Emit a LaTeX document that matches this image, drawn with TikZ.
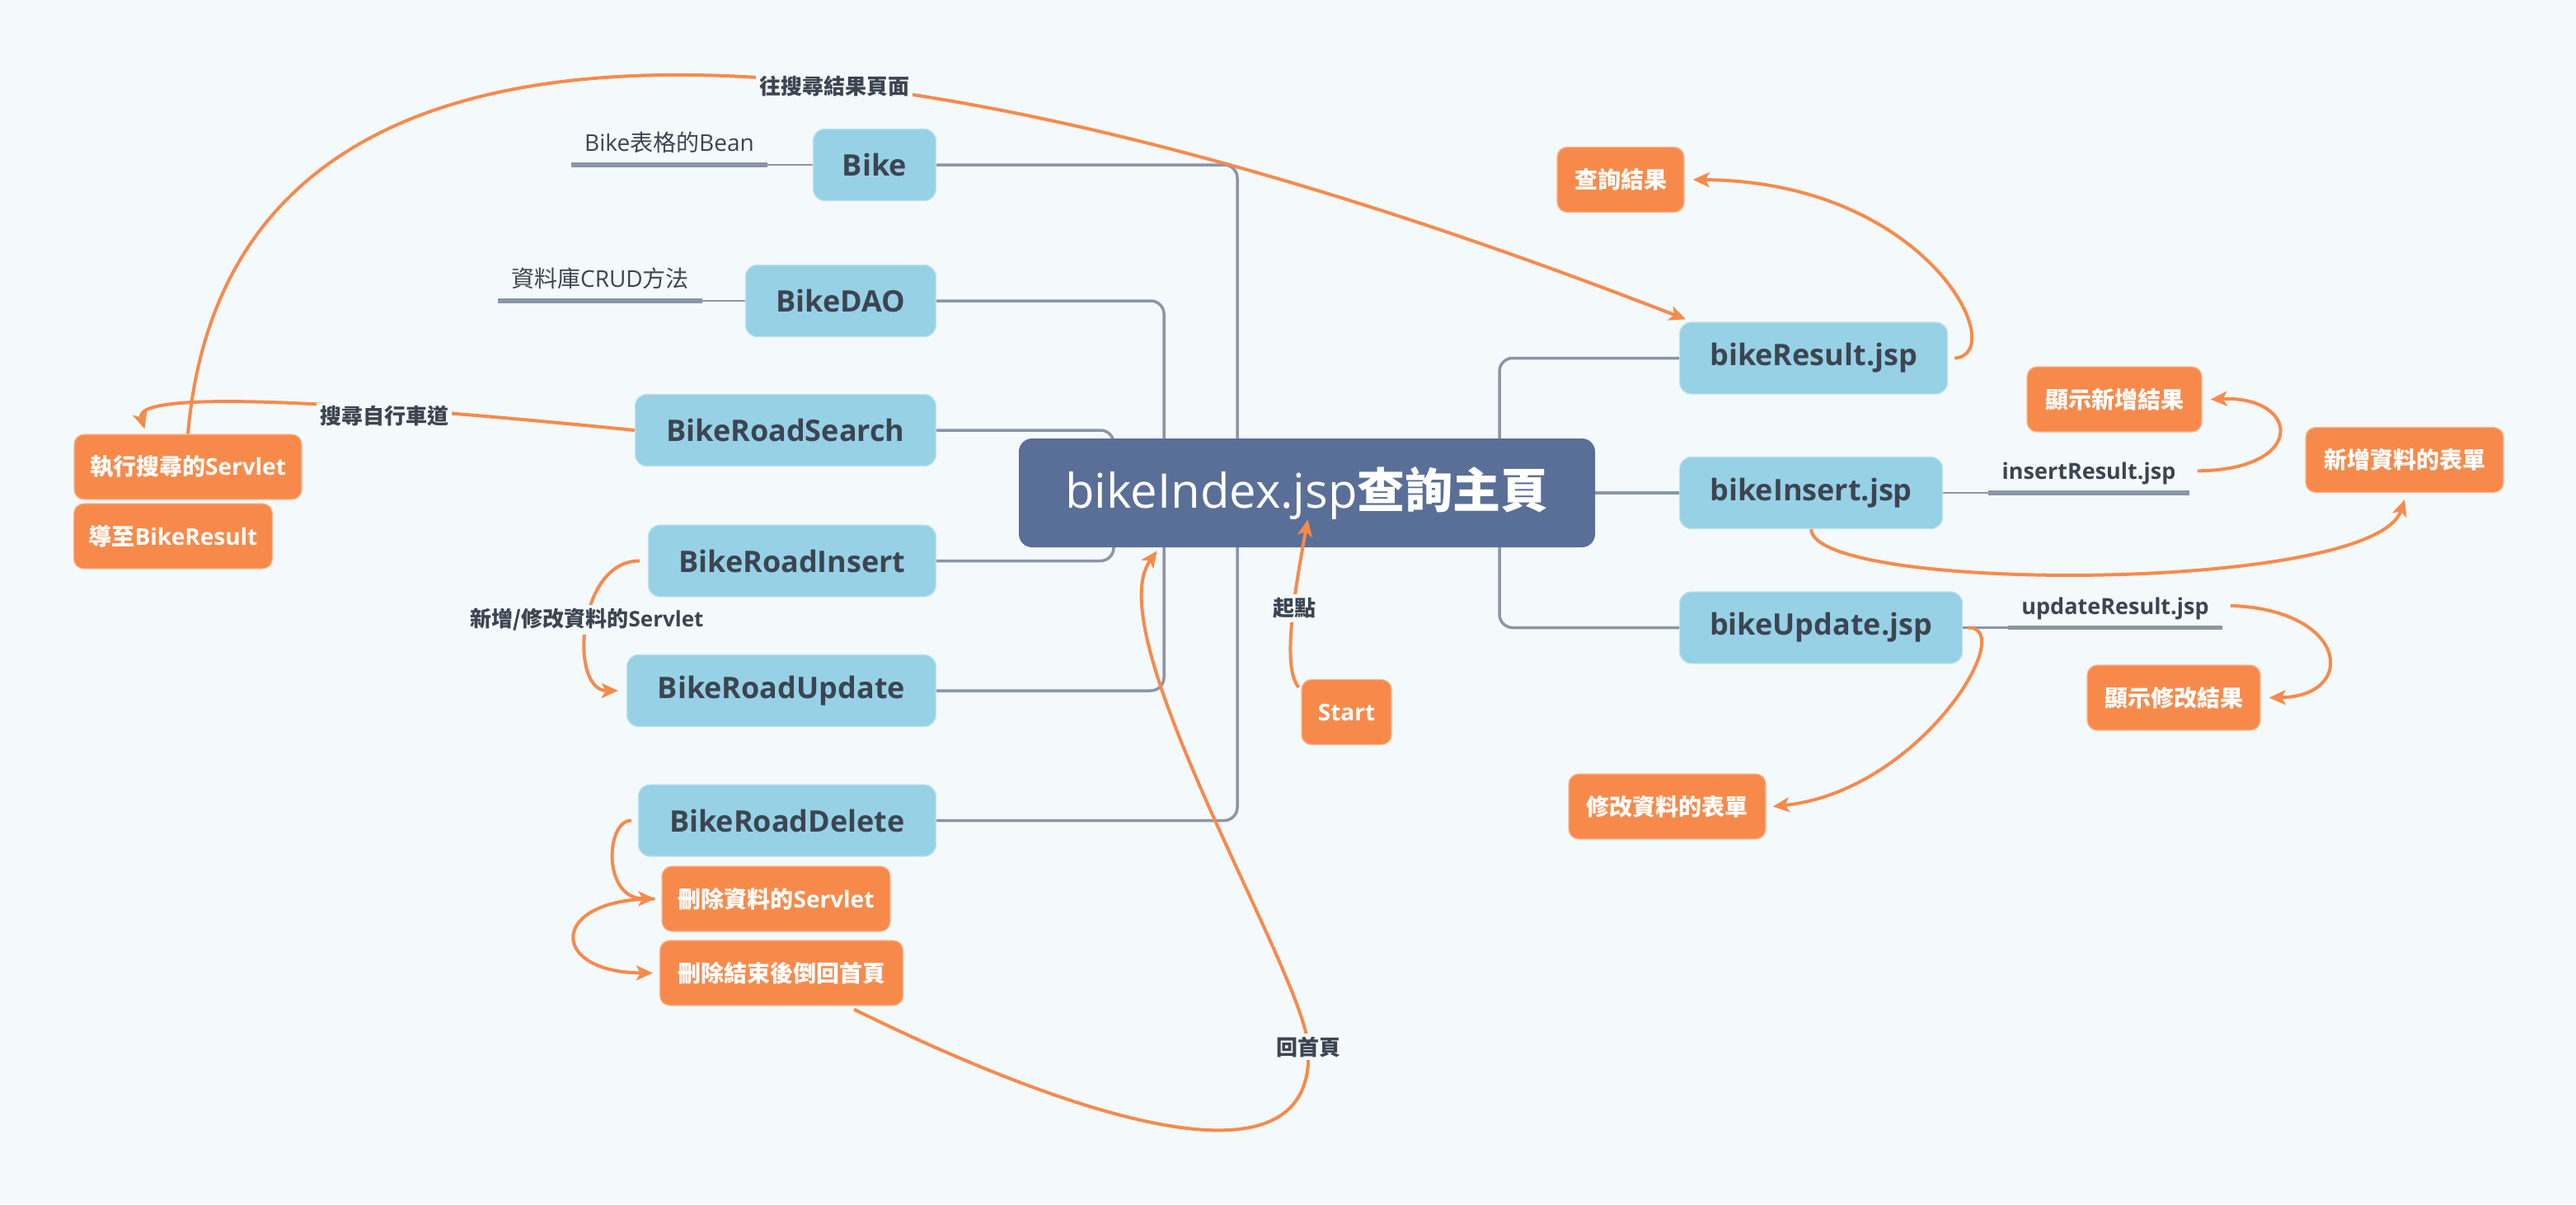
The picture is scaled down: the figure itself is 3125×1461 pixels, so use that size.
\documentclass[tikz,border=0pt]{standalone}
\usepackage{fontspec}
\setmainfont{Open Sans}
\newfontfamily\cjkfont{Noto Sans CJK TC}
\newcommand{\zh}[1]{{\cjkfont #1}}
\usetikzlibrary{arrows.meta,calc,backgrounds}
\definecolor{bgc}{HTML}{F4F9FC}
\definecolor{cmain}{HTML}{5A6F97}
\definecolor{cblue}{HTML}{97D1E6}
\definecolor{cdark}{HTML}{3C4551}
\definecolor{corange}{HTML}{F78A4B}
\definecolor{cgray}{HTML}{8A95A7}
\begin{document}
\begin{tikzpicture}[x=0.5pt,y=-0.5pt,
  tree/.style={draw=cgray,line width=1.75pt,rounded corners=8pt},
  thinline/.style={draw=cgray,line width=1.4pt},
  uline/.style={draw=cgray,line width=2.6pt},
  rel/.style={draw=corange,line width=2pt,-{Stealth[length=10pt,width=9pt,inset=2.5pt]}},
  mainbox/.style={fill=cmain,rounded corners=8pt,inner sep=0pt,minimum width=349.5pt,minimum height=66pt,text=white,font=\fontsize{29}{34}\selectfont},
  bluebox/.style={fill=cblue,draw=cblue!60!white,line width=0.6pt,rounded corners=7pt,inner sep=0pt,minimum height=43.5pt,text=cdark,font=\fontsize{18}{22}\selectfont\bfseries},
  orangebox/.style={fill=corange,draw=corange!60!white,line width=0.6pt,rounded corners=6pt,inner sep=0pt,minimum height=39.5pt,text=white,font=\fontsize{14}{17}\selectfont\bfseries},
  lbl/.style={text=cdark,font=\fontsize{14}{17}\selectfont,inner xsep=8pt,inner ysep=8pt,text depth=0pt,anchor=south},
  blbl/.style={lbl,font=\fontsize{13.5}{16}\selectfont\bfseries},
  rlbl/.style={fill=bgc,text=cdark,font=\fontsize{13}{16}\selectfont\bfseries,inner sep=2pt}
]
\useasboundingbox (0,0) rectangle (3125,1461);

% central topic
\node[mainbox] (main) at (1585.5,598) {bikeIndex.jsp\zh{\bfseries 查詢主頁}};

% left topics
\node[bluebox,anchor=east,minimum width=74.5pt] (bike) at (1136,200) {Bike};
\node[bluebox,anchor=east,minimum width=115.5pt] (dao) at (1136,365) {BikeDAO};
\node[bluebox,anchor=east,minimum width=182.5pt] (search) at (1136,522) {BikeRoadSearch};
\node[bluebox,anchor=east,minimum width=174.5pt] (rins) at (1136,680.5) {BikeRoadInsert};
\node[bluebox,anchor=east,minimum width=187.5pt] (rupd) at (1136,838) {BikeRoadUpdate};
\node[bluebox,anchor=east,minimum width=180.5pt] (rdel) at (1136,995.5) {BikeRoadDelete};
% right topics
\node[bluebox,anchor=west,minimum width=162.5pt] (res) at (2037,434.5) {bikeResult.jsp};
\node[bluebox,anchor=west,minimum width=159.5pt] (ins) at (2037,598) {bikeInsert.jsp};
\node[bluebox,anchor=west,minimum width=171.5pt] (upd) at (2037,761.5) {bikeUpdate.jsp};

% labels with underline
\node[lbl] (lbike) at (812,200) {Bike\zh{表格的}Bean};
\node[lbl] (ldao) at (728,365) {\zh{資料庫}CRUD\zh{方法}};
\node[blbl] (lins) at (2534,598) {insertResult.jsp};
\node[blbl] (lupd) at (2566,761.5) {updateResult.jsp};

% orange floating topics
\node[orangebox,minimum width=77pt] (cx) at (1966,218) {\zh{查詢結果}};
\node[orangebox,minimum width=106pt] (xz) at (2565,484.5) {\zh{顯示新增結果}};
\node[orangebox,minimum width=120pt] (nf) at (2917,558) {\zh{新增資料的表單}};
\node[orangebox,minimum width=105pt] (xm) at (2637,846.5) {\zh{顯示修改結果}};
\node[orangebox,minimum width=119.5pt] (mf) at (2022.5,978.5) {\zh{修改資料的表單}};
\node[orangebox,minimum width=54.5pt] (start) at (1633.5,864) {Start};
\node[orangebox,minimum width=138pt] (srv) at (228,566.5) {\zh{執行搜尋的}Servlet};
\node[orangebox,minimum width=120.5pt] (br) at (210,650.5) {\zh{導至}BikeResult};
\node[orangebox,minimum width=138.5pt] (ds) at (941.5,1090.5) {\zh{刪除資料的}Servlet};
\node[orangebox,minimum width=147.5pt] (dr) at (948,1180.5) {\zh{刪除結束後倒回首頁}};

\begin{scope}[on background layer]
  \fill[bgc] (0,0) rectangle (3125,1461);
  \draw[tree] (bike.east) -- ++(365,0) |- (rdel.east);
  \draw[tree] (dao.east) -- ++(276,0) |- (rupd.east);
  \draw[tree] (search.east) -- ++(215,0) |- (rins.east);
  \draw[tree] (res.west) -- ++(-218,0) |- (upd.west);
  \draw[tree] (main.east) -- (ins.west);
  \draw[uline] (lbike.south west) -- (lbike.south east);
  \draw[thinline] (lbike.south east) -- (bike.west);
  \draw[uline] (ldao.south west) -- (ldao.south east);
  \draw[thinline] (ldao.south east) -- (dao.west);
  \draw[uline] (lins.south west) -- (lins.south east);
  \draw[thinline] (ins.east) -- (lins.south west);
  \draw[uline] (lupd.south west) -- (lupd.south east);
  \draw[thinline] (upd.east) -- (lupd.south west);
\end{scope}

% relationships
\coordinate (hp) at (1587,1270);
\draw[rel] (srv.north) .. controls (280,-80) and (1100,20) .. ($(res.north west)+(8,-3)$);
\draw[rel] (search.west) .. controls (450,490) and (160,470) .. ($(srv.north west)+(86,-6)$);
\draw[rel] ([xshift=4pt]res.east) .. controls (2440,430) and (2340,220) .. ([xshift=5pt]cx.east);
\draw[rel] ([xshift=5pt]lins.east) .. controls (2800,570) and (2790,480) .. ([xshift=5pt]xz.east);
\draw[rel] (ins.south) .. controls (2200,720) and (2880,720) .. ([yshift=-4pt]nf.south);
\draw[rel] ([xshift=3pt]upd.east) .. controls (2450,760) and (2330,960) .. ([xshift=4pt]mf.east);
\draw[rel] ([xshift=5pt]lupd.east) .. controls (2850,740) and (2860,845) .. ([xshift=5pt]xm.east);
\draw[rel] ($(start.north west)+(-3,10)$) .. controls (1555,810) and (1570,720) .. ($(main.south)+(1,-34)$);
\draw[rel] ([xshift=-5pt]rins.west) .. controls (700,680) and (690,838) .. ([xshift=-5pt]rupd.west);
\draw[rel] ([xshift=-4pt]rdel.west) .. controls (735,995) and (730,1090) .. ([xshift=-4pt]ds.west);
\draw[rel] ([xshift=-4pt]ds.west) .. controls (665,1090) and (665,1180) .. ([xshift=-4pt]dr.west);
\draw[rel] ($(dr.south)+(88,4)$) .. controls (1250,1330) and (1600,1470) .. (hp) .. controls (1582,1180) and (1330,770) .. ($(main.south west)+(168,4)$);

% relationship labels
\node[rlbl] (r1) at (1012,105) {\zh{往搜尋結果頁面}};
\node[rlbl] (r2) at (466,505) {\zh{搜尋自行車道}};
\node[rlbl] (r3) at (712,752) {\zh{新增/修改資料的}Servlet};
\node[rlbl] (r4) at (1570,738) {\zh{起點}};
\node[rlbl] (r5) at (hp) {\zh{回首頁}};
\end{tikzpicture}
\end{document}
